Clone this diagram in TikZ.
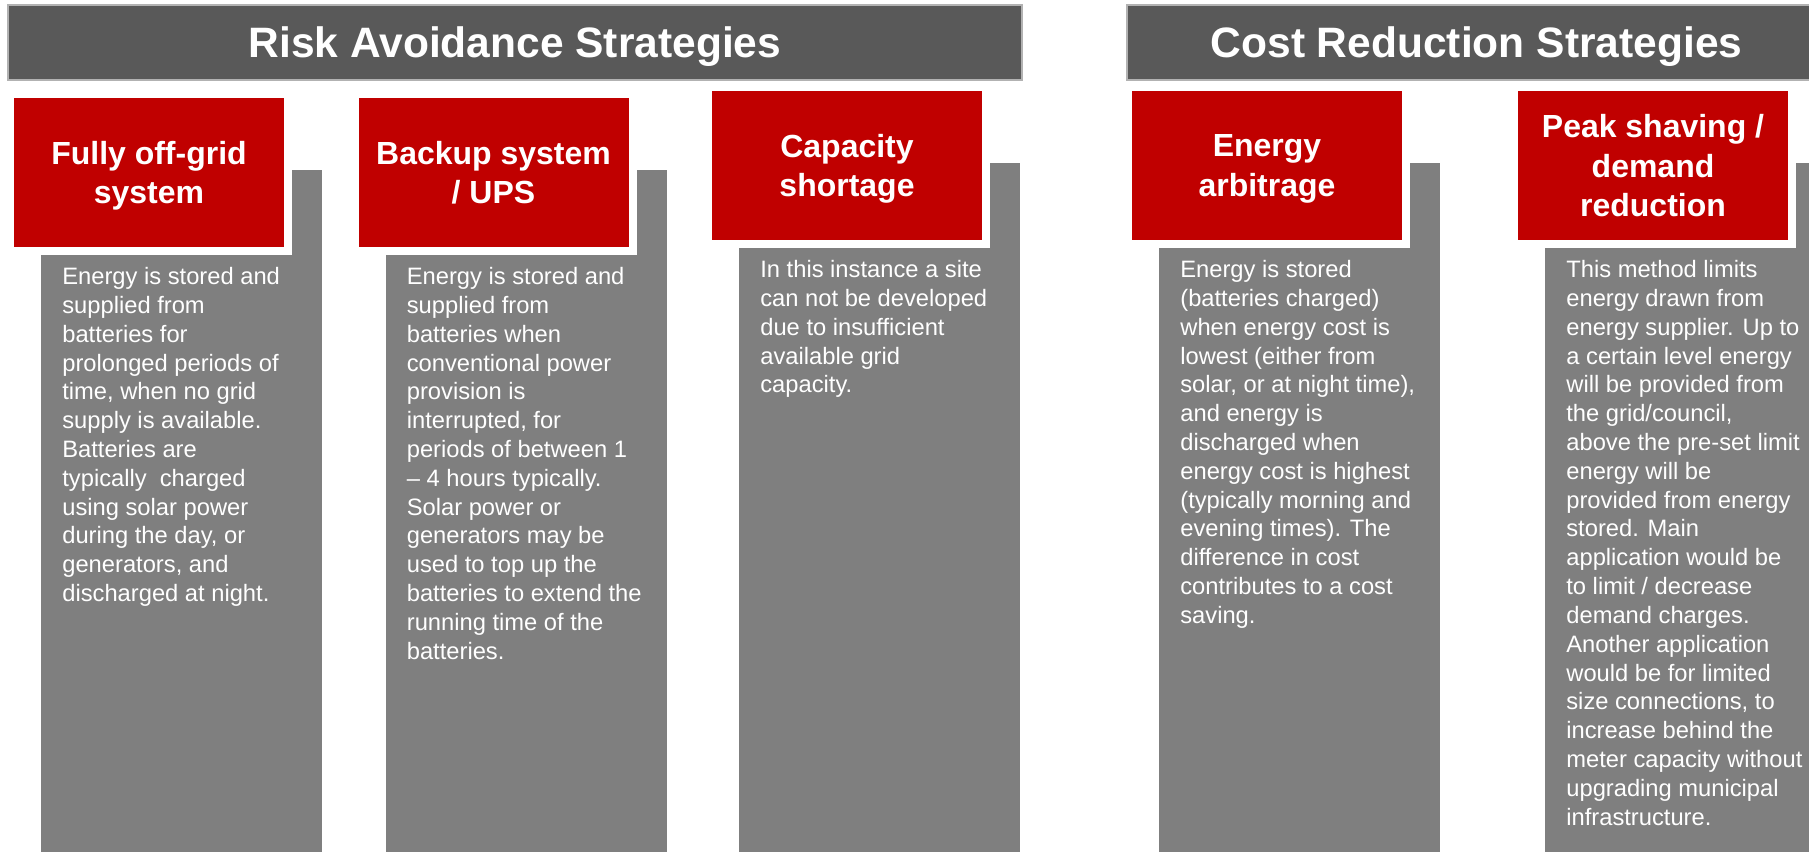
\documentclass[tikz,border=0pt]{standalone}
\usepackage{fontspec}
\setmainfont{Liberation Sans}
\usetikzlibrary{positioning, calc}

\definecolor{boxred}{HTML}{C00000}
\definecolor{panelgray}{HTML}{7F7F7F}
\definecolor{bargray}{HTML}{595959}

\begin{document}
\begin{tikzpicture}[
        headbar/.style={fill=bargray, draw=black!30, line width=0.04cm, text=white, minimum height=1.5cm,
            inner sep=0pt, text depth=0pt, font=\fontsize{24.2pt}{29pt}\selectfont\bfseries},
        panel/.style={fill=panelgray, anchor=north west, minimum width=5.62cm, minimum height=14cm,
            inner sep=0pt, outer sep=0pt},
        stratbox/.style={fill=boxred, preaction={draw=white, line width=0.32cm}, anchor=north west,
            minimum width=5.4cm, minimum height=2.98cm, inner sep=0pt, outer sep=0pt, text=white,
            text depth=0pt, align=center, font=\fontsize{18.2pt}{22.3pt}\selectfont\bfseries},
        descr/.style={anchor=north west, inner sep=0pt, text=white, align=left,
            font=\fontsize{13.5pt}{16.4pt}\selectfont}
    ]
        \path[use as bounding box, fill=white] (0,0) rectangle (36.18,-17.04);

        % Headers
        \node[headbar, minimum width=20.28cm] (risk) at (10.30,-0.85) {Risk Avoidance Strategies};
        \node[headbar, minimum width=13.98cm] (cost) at (29.53,-0.85) {Cost Reduction Strategies};

        % Grey panels
        \node[panel] (p1) at (0.82,-3.40) {};
        \node[panel] (p2) at (7.71,-3.40) {};
        \node[panel] (p3) at (14.78,-3.26) {};
        \node[panel] (p4) at (23.18,-3.26) {};
        \node[panel] (p5) at (30.90,-3.26) {};

        % Strategy boxes
        \node[stratbox] (t1) at ($(p1.north west)+(-0.54,1.44)$) {Fully off-grid\\system};
        \node[stratbox] (t2) at ($(p2.north west)+(-0.54,1.44)$) {Backup system\\/ UPS};
        \node[stratbox] (t3) at ($(p3.north west)+(-0.54,1.44)$) {Capacity\\shortage};
        \node[stratbox] (t4) at ($(p4.north west)+(-0.54,1.44)$) {Energy\\arbitrage};
        \node[stratbox] (t5) at ($(p5.north west)+(-0.54,1.44)$) {Peak shaving /\\demand\\reduction};

        % Descriptions
        \node[descr] (d1) at ($(t1.south west)+(0.96,-0.40)$) {Energy is stored and\\supplied from\\batteries for\\prolonged periods of\\time, when no grid\\supply is available.\\Batteries are\\typically\ \ charged\\using solar power\\during the day, or\\generators, and\\discharged at night.};
        \node[descr] (d2) at ($(t2.south west)+(0.96,-0.40)$) {Energy is stored and\\supplied from\\batteries when\\conventional power\\provision is\\interrupted, for\\periods of between 1\\-- 4 hours typically.\\Solar power or\\generators may be\\used to top up the\\batteries to extend the\\running time of the\\batteries.};
        \node[descr] (d3) at ($(t3.south west)+(0.96,-0.40)$) {In this instance a site\\can not be developed\\due to insufficient\\available grid\\capacity.};
        \node[descr] (d4) at ($(t4.south west)+(0.96,-0.40)$) {Energy is stored\\(batteries charged)\\when energy cost is\\lowest (either from\\solar, or at night time),\\and energy is\\discharged when\\energy cost is highest\\(typically morning and\\evening times). The\\difference in cost\\contributes to a cost\\saving.};
        \node[descr] (d5) at ($(t5.south west)+(0.96,-0.40)$) {This method limits\\energy drawn from\\energy supplier. Up to\\a certain level energy\\will be provided from\\the grid/council,\\above the pre-set limit\\energy will be\\provided from energy\\stored. Main\\application would be\\to limit / decrease\\demand charges.\\Another application\\would be for limited\\size connections, to\\increase behind the\\meter capacity without\\upgrading municipal\\infrastructure.};
    \end{tikzpicture}
\end{document}
